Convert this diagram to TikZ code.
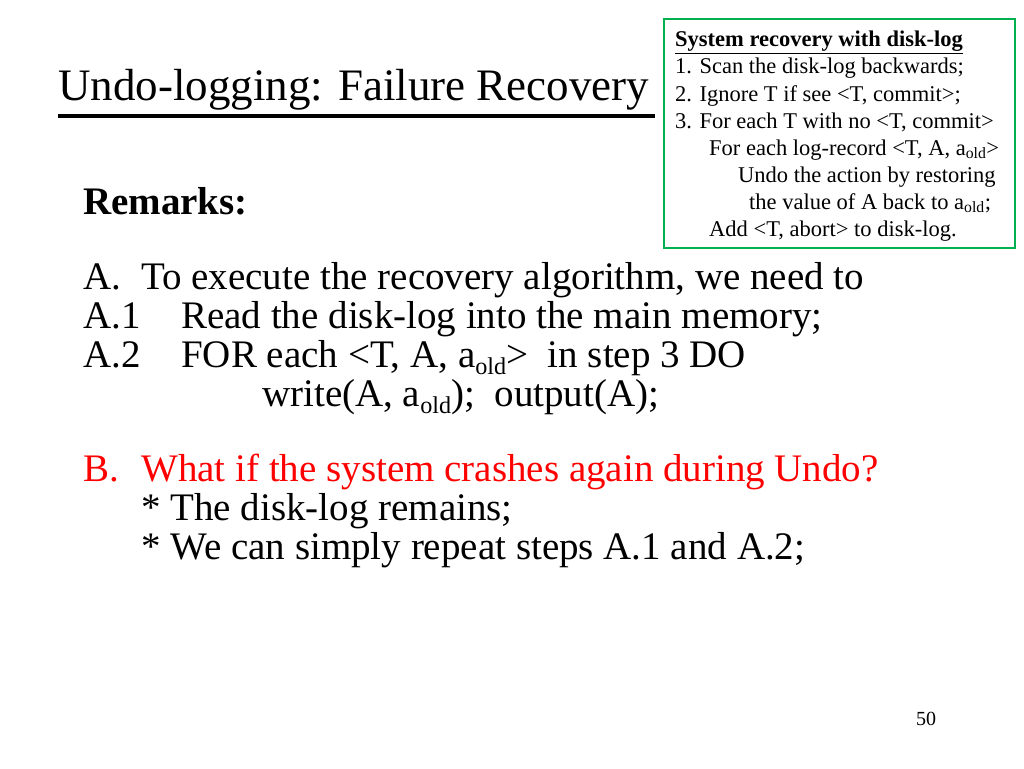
\documentclass[tikz,border=0pt]{standalone}
\usepackage{fontspec}
\setmainfont{Liberation Serif}
\newcommand{\mysub}[1]{\raisebox{-0.18em}{\fontsize{0.62em}{0.7em}\selectfont #1}}
\begin{document}
\begin{tikzpicture}[x=1pt,y=-1pt,
  t/.style={anchor=base west,inner sep=0pt},
  body/.style={t,font=\fontsize{39}{43}\selectfont},
  small/.style={t,font=\fontsize{22.5}{25}\selectfont}]
\useasboundingbox (0,0) rectangle (1024,768);
\node[t,font=\fontsize{45}{49}\selectfont] (title) at (58,100) {Undo-logging: Failure Recovery};
\draw[line width=4pt] (58,116) -- (655,116);
\draw[draw={rgb,255:red,0;green,176;blue,80},line width=2.5pt] (664,19) rectangle (1015,248);
\node[small] (b1) at (675,47) {\textbf{\underline{System recovery with disk-log}}};
\node[small] (b2) at (675,74) {1. Scan the disk-log backwards;};
\node[small] (b3) at (675,101) {2. Ignore T if see <T, commit>;};
\node[small] (b4) at (675,128) {3. For each T with no <T, commit>};
\node[small] (b5) at (709,155) {For each log-record <T, A, a\textsubscript{old}>};
\node[small] (b6) at (738,182) {Undo the action by restoring};
\node[small] (b7) at (749,209) {the value of A back to a\textsubscript{old};};
\node[small] (b8) at (709,236) {Add <T, abort> to disk-log.};
\node[t,font=\fontsize{39}{43}\selectfont\bfseries] (rem) at (83,214) {Remarks:};
\node[body] (a0) at (83,289) {A.};
\node[body] (a0t) at (141,289) {To execute the recovery algorithm, we need to};
\node[body] (a1) at (83,328) {A.1};
\node[body] (a1t) at (181,328) {Read the disk-log into the main memory;};
\node[body] (a2) at (83,367) {A.2};
\node[body] (a2t) at (181,367) {FOR each <T, A, a\mysub{old}>\ \ in step 3 DO};
\node[body] (a3t) at (262,406) {write(A, a\mysub{old});\ \ output(A);};
\node[body,text=red] (b0) at (83,481) {B.};
\node[body,text=red] (b0t) at (141,481) {What if the system crashes again during Undo?};
\node[body] (bb1) at (141,520) {* The disk-log remains;};
\node[body] (bb2) at (141,559) {* We can simply repeat steps A.1 and A.2;};
\node[t,font=\fontsize{20}{24}\selectfont] (pg) at (916,725) {50};
\end{tikzpicture}
\end{document}
